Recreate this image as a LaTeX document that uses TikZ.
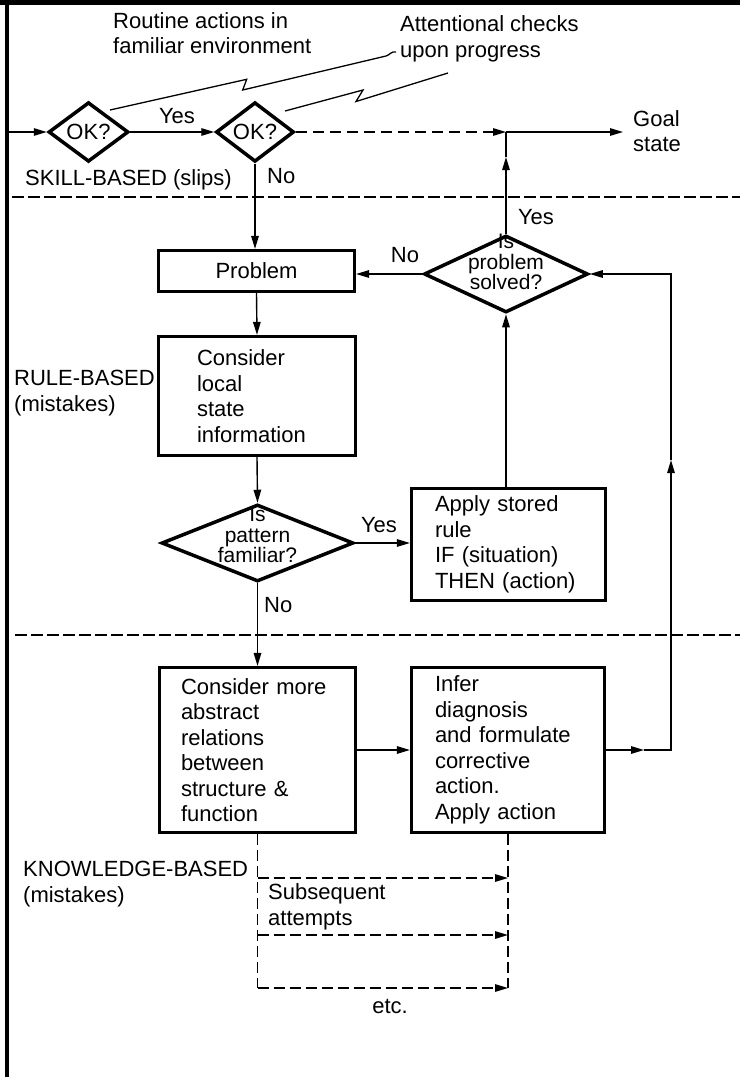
\documentclass[tikz,border=0pt]{standalone}
\usepackage{fontspec}
\setmainfont{Liberation Sans}
\usetikzlibrary{shapes.geometric,arrows.meta}
\begin{document}
\begin{tikzpicture}[x=1pt,y=-1pt,
  txt/.style={font=\fontsize{22}{25.5}\selectfont, inner sep=0pt},
  stepbox/.style={txt, draw, line width=3.2pt, align=left},
  dia/.style={draw, shape=diamond, line width=3.5pt, inner sep=0pt, font=\fontsize{22}{25.5}\selectfont},
  conn/.style={line width=1.4pt},
  arr/.style={conn, -{Triangle[length=13pt,width=7.5pt]}},
  dconn/.style={conn, dash pattern=on 11pt off 5pt},
  darr/.style={arr, dash pattern=on 11pt off 5pt},
  sep/.style={line width=2.8pt, dash pattern=on 12pt off 4pt},
  zig/.style={line width=1.3pt, line join=miter},
]
\useasboundingbox (0,0) rectangle (740,1077);
% frame
\draw[line width=5pt] (0,2.5) -- (740,2.5);
\draw[line width=4pt] (6.5,0) -- (6.5,1077);
% separators
\draw[sep] (12,197) -- (740,197);
\draw[sep] (15,635) -- (740,635);

% diamonds
\node[dia, minimum width=80pt, minimum height=44pt] (d1) at (88.5,132) {OK?};
\node[dia, minimum width=78pt, minimum height=45pt] (d2) at (255,132) {OK?};
\node[dia, minimum width=164pt, minimum height=77pt] (d3) at (506,274) {};
\node[txt, align=center, font=\fontsize{21}{18}\selectfont] (d3t) at (506,262) {Is\\[3pt]problem\\solved?};
\node[dia, minimum width=192pt, minimum height=77pt] (pat) at (257.5,543) {};
\node[txt, align=center, font=\fontsize{21}{18}\selectfont] (patt) at (257.5,535) {Is\\[3pt]pattern\\familiar?};

% boxes
\node[stepbox, minimum width=196pt, minimum height=41pt, align=center] (prob) at (256.5,271) {Problem};
\node[stepbox, minimum width=197pt, minimum height=119pt, text width=120pt] (local) at (257,396) {Consider\\local\\state\\information};
\node[stepbox, minimum width=194pt, minimum height=112pt, text width=147pt] (apply) at (508.5,544.5) {Apply stored\\rule\\IF (situation)\\THEN (action)};
\node[stepbox, minimum width=196pt, minimum height=165pt, text width=153pt] (more) at (257.5,750) {Consider more\\abstract\\relations\\between\\structure \&\\function};
\node[stepbox, minimum width=193pt, minimum height=165pt, text width=146pt] (infer) at (508,750) {Infer\\diagnosis\\and formulate\\corrective\\action.\\Apply action};

% labels
\node[txt, align=left, anchor=west] (routine) at (113,33) {Routine actions in\\familiar environment};
\node[txt, align=left, anchor=west] (attn) at (400,39) {Attentional checks\\upon progress};
\node[txt] (yes1) at (177,116) {Yes};
\node[txt, anchor=west] (no1) at (267,176) {No};
\node[txt, anchor=west] (skill) at (25,180) {SKILL-BASED (slips)};
\node[txt, align=left, anchor=west] (goal) at (633,131) {Goal\\state};
\node[txt, align=left, anchor=west] (rule) at (14,393) {RULE-BASED\\(mistakes)};
\node[txt] (yes2) at (536,217) {Yes};
\node[txt] (no2) at (405,255) {No};
\node[txt] (yes3) at (379,525) {Yes};
\node[txt, anchor=west] (no3) at (264,605) {No};
\node[txt, align=left, anchor=west] (know) at (23,884) {KNOWLEDGE-BASED\\(mistakes)};
\node[txt, align=left, anchor=west] (subs) at (268,907) {Subsequent\\attempts};
\node[txt] (etc) at (390,1006) {etc.};

% coordinates
\coordinate (in) at (8.5,132);
\coordinate (J) at (506,132);
\coordinate (G) at (623,132);
\coordinate (upA) at (506,157);
\coordinate (rA) at (644,750);
\coordinate (rC) at (671,750);
\coordinate (rB) at (671,460);
\coordinate (kL1) at (257.5,878);
\coordinate (kR1) at (508,878);
\coordinate (kL2) at (257.5,935);
\coordinate (kR2) at (508,935);
\coordinate (kL3) at (257.5,988);
\coordinate (kR3) at (508,988);
\coordinate (z1s) at (110,110);
\coordinate (z1t) at (246.7,79.3);
\coordinate (z1b) at (242.7,90);
\coordinate (z1e) at (386,56);
\coordinate (z1h) at (396,52);
\coordinate (z2s) at (285,111);
\coordinate (z2t) at (363,90);
\coordinate (z2b) at (356,101.5);
\coordinate (z2e) at (448,73);

% zigzag lines
\draw[zig] (z1s) -- (z1t) -- (z1b) -- (z1e) .. controls (390,55) and (391,51) .. (z1h);
\draw[zig] (z2s) -- (z2t) -- (z2b) -- (z2e);

% connectors
\draw[arr] (in) -- (d1.west);
\draw[arr] (d1.east) -- (d2.west);
\draw[darr, dash pattern=on 11pt off 6pt] (d2.east) -- (J);
\draw[arr] (J) -- (G);
\draw[arr] (d3.north) -- (upA);
\draw[conn] (upA) -- (J);
\draw[arr] (d2.south) -- (d2.south |- prob.north);
\draw[arr] (prob.south) -- (local.north);
\draw[arr] (local.south) -- (pat.north);
\draw[arr] (pat.east) -- (pat.east -| apply.west);
\draw[arr] (apply.north -| d3.south) -- (d3.south);
\draw[arr] (d3.west) -- (d3.west -| prob.east);
\draw[arr] (pat.south) -- (more.north);
\draw[arr] (more.east) -- (more.east -| infer.west);
\draw[arr] (infer.east) -- (rA);
\draw[arr] (rA) -- (rC) -- (rB);
\draw[arr] (rB) -- (rB |- d3.east) -- (d3.east);

% knowledge-based dashed attempts
\draw[dconn] (more.south) -- (kL3);
\draw[dconn] (infer.south) -- (kR3);
\draw[darr] (kL1) -- (kR1);
\draw[darr] (kL2) -- (kR2);
\draw[darr] (kL3) -- (kR3);
\end{tikzpicture}
\end{document}
